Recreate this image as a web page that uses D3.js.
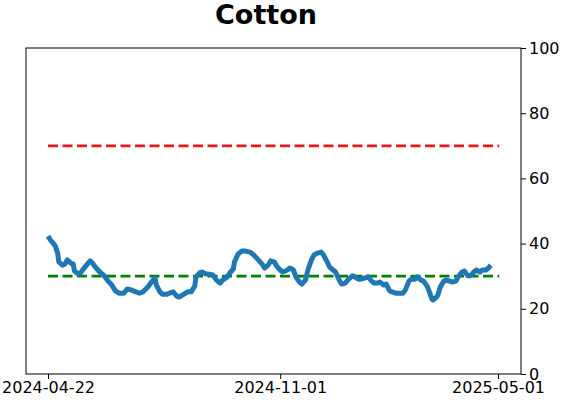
<!DOCTYPE html>
<html>
<head>
<meta charset="utf-8">
<script src="https://cdn.jsdelivr.net/npm/d3@7"></script>
<style>
  body { margin: 0; background: #fff; }
  svg text { font-family: "DejaVu Sans", sans-serif; }
</style>
</head>
<body>
<svg id="svg"></svg>
<script>
var dates = [
  "2024-04-22","2024-04-24","2024-04-26","2024-04-28","2024-04-30","2024-05-01","2024-05-04","2024-05-06",
  "2024-05-08","2024-05-11","2024-05-13","2024-05-14","2024-05-17","2024-05-19","2024-05-22","2024-05-24",
  "2024-05-27","2024-05-29","2024-06-01","2024-06-04","2024-06-07","2024-06-11","2024-06-14","2024-06-17",
  "2024-06-20","2024-06-24","2024-06-27","2024-06-30","2024-07-04","2024-07-07","2024-07-10","2024-07-14",
  "2024-07-17","2024-07-20","2024-07-21","2024-07-24","2024-07-26","2024-07-30","2024-08-01","2024-08-04",
  "2024-08-07","2024-08-09","2024-08-13","2024-08-16","2024-08-19","2024-08-22","2024-08-23","2024-08-26",
  "2024-08-28","2024-08-31","2024-09-02","2024-09-06","2024-09-09","2024-09-12","2024-09-14","2024-09-18",
  "2024-09-20","2024-09-23","2024-09-24","2024-09-27","2024-09-30","2024-10-03","2024-10-07","2024-10-10",
  "2024-10-13","2024-10-17","2024-10-19","2024-10-22","2024-10-24","2024-10-27","2024-10-29","2024-11-01",
  "2024-11-03","2024-11-07","2024-11-09","2024-11-12","2024-11-14","2024-11-17","2024-11-19","2024-11-22",
  "2024-11-24","2024-11-27","2024-11-29","2024-12-02","2024-12-05","2024-12-07","2024-12-10","2024-12-12",
  "2024-12-15","2024-12-17","2024-12-20","2024-12-22","2024-12-25","2024-12-27","2024-12-31","2025-01-02",
  "2025-01-05","2025-01-07","2025-01-10","2025-01-13","2025-01-16","2025-01-18","2025-01-21","2025-01-23",
  "2025-01-26","2025-01-28","2025-01-31","2025-02-02","2025-02-05","2025-02-08","2025-02-11","2025-02-13",
  "2025-02-16","2025-02-18","2025-02-21","2025-02-23","2025-02-26","2025-02-28","2025-03-03","2025-03-05",
  "2025-03-07","2025-03-08","2025-03-11","2025-03-12","2025-03-14","2025-03-17","2025-03-19","2025-03-22",
  "2025-03-24","2025-03-27","2025-03-29","2025-04-01","2025-04-03","2025-04-06","2025-04-08","2025-04-11",
  "2025-04-13","2025-04-16","2025-04-18","2025-04-21","2025-04-23","2025-04-25"
];
var values = [
  42.3,41.1,40.2,39.3,37.1,34.4,33.4,33.7,
  35.0,34.0,33.7,31.6,30.7,31.0,32.5,33.4,
  34.7,34.0,32.5,31.3,30.4,28.5,27.3,25.5,
  24.8,24.8,26.1,25.8,25.2,24.8,25.2,26.7,
  28.2,29.4,27.3,25.2,24.5,24.5,24.8,25.2,
  23.9,23.6,24.5,25.2,25.2,27.0,29.8,31.0,
  31.3,30.7,30.7,30.4,28.8,27.9,28.8,29.8,
  31.0,32.2,34.4,36.8,37.7,37.7,37.4,36.5,
  35.3,33.7,32.5,33.4,34.7,34.4,33.1,31.9,
  31.3,31.9,32.5,31.9,29.8,28.2,27.6,28.8,
  31.9,35.0,36.5,37.1,37.4,36.5,34.4,32.8,
  31.9,31.3,28.8,27.6,27.9,28.8,30.1,29.8,
  29.1,29.1,29.4,29.8,28.5,27.9,27.9,28.2,
  27.3,27.6,25.5,25.2,24.8,24.8,24.8,25.8,
  28.5,29.1,29.1,29.8,28.8,28.5,27.0,25.2,
  23.0,22.7,23.6,24.2,26.7,28.5,28.8,28.5,
  28.2,28.5,29.8,31.3,31.6,30.1,30.1,31.3,
  31.9,31.3,31.9,31.9,32.5,33.4
];
var xTicks = ["2024-04-22", "2024-11-01", "2025-05-01"];
var yTicks = [0, 20, 40, 60, 80, 100];
var refLevels = [70, 30];
var refColors = ["#e41a1c", "#008000"];
var refSpan = ["2024-04-22", "2025-05-02"];
var title = "Cotton";

var width = 562, height = 402;
var margin = { top: 48, right: 41, bottom: 28, left: 26 };
var innerW = width - margin.left - margin.right,
  innerH = height - margin.top - margin.bottom;

var parse = d3.timeParse("%Y-%m-%d");
var data = dates.map(function (d, i) {
  return { date: parse(d), value: values[i] };
});

// 2024-04-22 .. 2025-05-01 sit at 48 .. 498 on the page
var scaleX = d3.scaleUtc()
  .domain([parse(xTicks[0]), parse(xTicks[2])])
  .range([48 - margin.left, 498 - margin.left]);

var scaleY = d3.scaleLinear()
  .domain([0, 100])
  .range([innerH, 0]);

var s = d3.select('#svg')
  .attr('width', width)
  .attr('height', height);

s.append('text')
  .attr('x', 266)
  .attr('y', 24)
  .attr('text-anchor', 'middle')
  .style('font-size', '27px')
  .style('font-weight', 'bold')
  .text(title);

var g = s.append('g')
  .attr('transform', 'translate(' + margin.left + ',' + margin.top + ')');

// reference lines
refLevels.forEach(function (lv, i) {
  g.append('line')
    .attr('x1', scaleX(parse(refSpan[0])))
    .attr('x2', scaleX(parse(refSpan[1])))
    .attr('y1', scaleY(lv))
    .attr('y2', scaleY(lv))
    .attr('stroke', refColors[i])
    .attr('stroke-width', 2.7)
    .attr('stroke-dasharray', '10,4.5');
});

var line = d3.line()
  .x(function (d) { return scaleX(d.date); })
  .y(function (d) { return scaleY(d.value); })
  .curve(d3.curveLinear);

g.append('path')
  .datum(data)
  .attr('fill', 'none')
  .attr('stroke', '#1f77b4')
  .attr('stroke-width', 5)
  .attr('stroke-linejoin', 'round')
  .attr('stroke-linecap', 'butt')
  .attr('d', line);

// frame
g.append('rect')
  .attr('x', 0)
  .attr('y', 0)
  .attr('width', innerW)
  .attr('height', innerH)
  .attr('fill', 'none')
  .attr('stroke', '#000')
  .attr('stroke-width', 1);

var axisX = d3.axisBottom(scaleX)
  .tickValues(xTicks.map(parse))
  .tickFormat(d3.utcFormat("%Y-%m-%d"))
  .tickSize(5)
  .tickPadding(3);

var axisY = d3.axisRight(scaleY)
  .tickValues(yTicks)
  .tickSize(5)
  .tickPadding(3);

var gx = g.append('g')
  .attr('transform', 'translate(0,' + innerH + ')')
  .call(axisX);

var gy = g.append('g')
  .attr('transform', 'translate(' + innerW + ',0)')
  .call(axisY);

[gx, gy].forEach(function (ax) {
  ax.select('.domain').remove();
  ax.selectAll('text')
    .style('font-size', '16px')
    .style('font-family', '"DejaVu Sans", sans-serif')
    .attr('fill', '#000');
});
</script>
</body>
</html>
